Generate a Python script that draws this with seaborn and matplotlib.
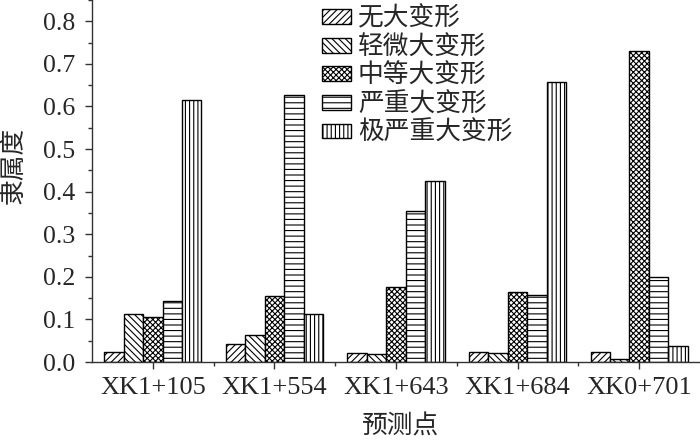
import matplotlib
matplotlib.use("Agg")
import matplotlib.pyplot as plt
from matplotlib.ticker import MultipleLocator
import seaborn as sns
import pandas as pd

points = ["XK1+105", "XK1+554", "XK1+643", "XK1+684", "XK0+701"]
levels = ["无大变形", "轻微大变形", "中等大变形", "严重大变形", "极严重大变形"]
v_none = [0.023, 0.043, 0.022, 0.023, 0.023]
v_slight = [0.112, 0.063, 0.019, 0.020, 0.008]
v_medium = [0.106, 0.155, 0.177, 0.164, 0.730]
v_severe = [0.144, 0.627, 0.354, 0.157, 0.200]
v_extreme = [0.615, 0.112, 0.426, 0.657, 0.038]
series = [v_none, v_slight, v_medium, v_severe, v_extreme]
hatches = ["/////", "\\\\\\\\\\", "xxxxxx", "---", "||||"]

rows = []
for lev, vals in zip(levels, series):
    for p, v in zip(points, vals):
        rows.append({"预测点": p, "等级": lev, "隶属度": v})
df = pd.DataFrame(rows)

sns.set_style("white")
plt.rcParams["font.family"] = ["Liberation Serif", "Noto Sans CJK SC"]
plt.rcParams["hatch.linewidth"] = 0.8

fig = plt.figure(figsize=(7, 4.44), dpi=100)
ax = fig.add_axes([92 / 700, 82 / 444, 608 / 700, 362 / 444])

sns.barplot(data=df, x="预测点", y="隶属度", hue="等级", hue_order=levels,
            order=points, width=0.8, legend=False, ax=ax, errorbar=None)

for cont, h in zip(ax.containers, hatches):
    for bar in cont:
        bar.set_facecolor("white")
        bar.set_edgecolor("black")
        bar.set_linewidth(1.0)
        bar.set_hatch(h)

ax.set_xlim(-0.5, 4.5)
ax.set_ylim(0, 0.85)
ax.set_xticks(range(len(points)))
ax.set_xticks([i + 0.5 for i in range(len(points) - 1)], minor=True)
ax.set_yticks([i / 10 for i in range(9)])
ax.set_yticklabels([f"{i / 10:.1f}" for i in range(9)])
ax.yaxis.set_minor_locator(MultipleLocator(0.05))

for s in ["top", "right"]:
    ax.spines[s].set_visible(False)
for s in ["left", "bottom"]:
    ax.spines[s].set_color("#333333")
    ax.spines[s].set_linewidth(1.0)

ax.tick_params(axis="both", which="major", direction="out", length=5, width=1,
               color="#333333", left=True, bottom=True)
ax.tick_params(axis="y", which="major", labelsize=18.5, pad=7)
ax.tick_params(axis="x", which="major", labelsize=19, pad=6)
ax.tick_params(axis="both", which="minor", direction="out", length=3, width=1,
               color="#333333", left=True, bottom=True)

ax.set_ylabel("隶属度", fontsize=18.5, family=["Noto Sans CJK SC"])
ax.set_xlabel("预测点", fontsize=18.5, family=["Noto Sans CJK SC"])
ax.yaxis.set_label_coords(-0.108, 0.544)
ax.xaxis.set_label_coords(0.508, -0.142)

handles = [cont[0] for cont in ax.containers]
leg = ax.legend(handles, levels, loc="upper left", bbox_to_anchor=(0.378, 0.984),
                frameon=False, prop={"family": ["Noto Sans CJK SC"], "size": 18.5},
                handlelength=1.15, handleheight=0.5, handletextpad=0.25,
                labelspacing=0.1, borderpad=0, borderaxespad=0)

fig.savefig("out.png", dpi=100)
